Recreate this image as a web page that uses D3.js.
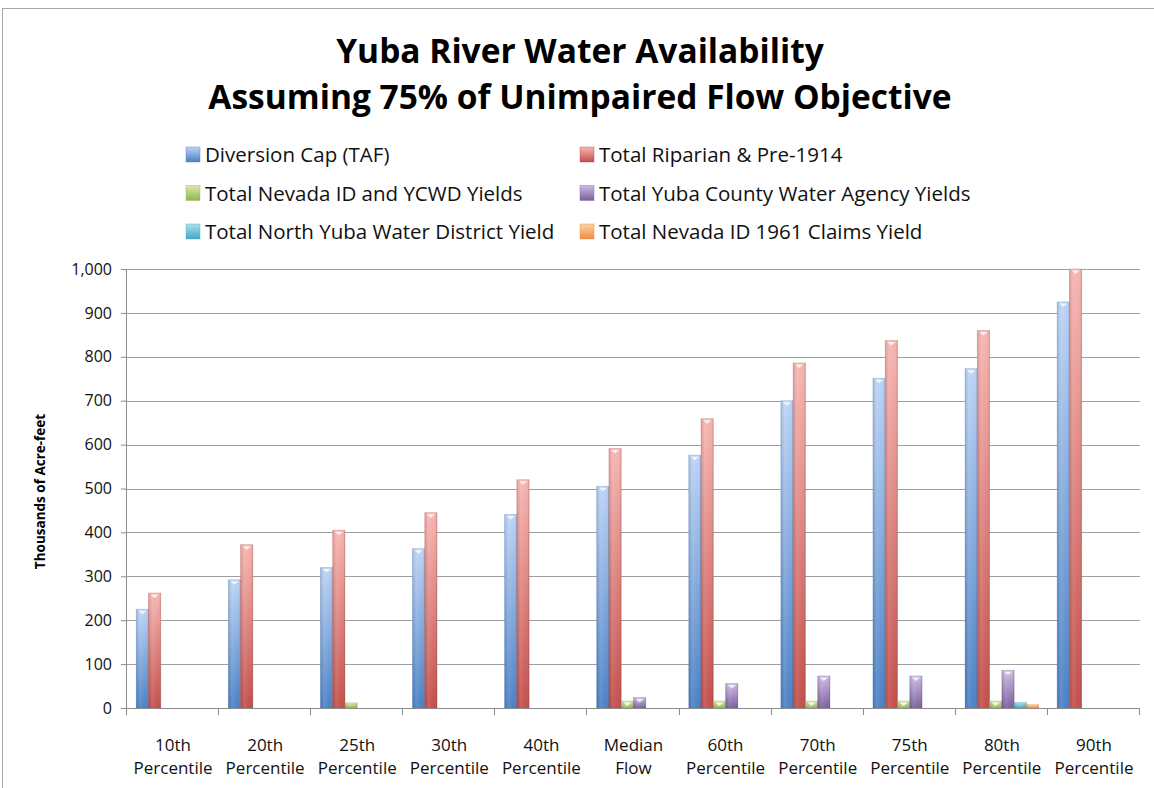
<!DOCTYPE html>
<html>
<head>
<meta charset="utf-8">
<script src="https://cdn.jsdelivr.net/npm/d3@7"></script>
<style>
  body { margin: 0; background: #fff; }
  svg { display: block; font-family: "Open Sans", sans-serif; }
</style>
</head>
<body>
<div class="chart"></div>
<script>
// categories along the x axis
var categories = ["10th Percentile", "20th Percentile", "25th Percentile", "30th Percentile",
    "40th Percentile", "Median Flow", "60th Percentile", "70th Percentile",
    "75th Percentile", "80th Percentile", "90th Percentile"];

var seriesNames = ["Diversion Cap (TAF)", "Total Riparian & Pre-1914",
    "Total Nevada ID and YCWD Yields", "Total Yuba County Water Agency Yields",
    "Total North Yuba Water District Yield", "Total Nevada ID 1961 Claims Yield"];

// values in thousands of acre-feet
var diversionCap = [225, 292, 320, 363, 441, 505, 576, 700, 751, 773, 925];
var riparian = [262, 372, 405, 445, 520, 591, 659, 786, 837, 860, 1000];
var nevadaYcwd = [0, 0, 12, 0, 0, 16, 16, 16, 16, 16, 0];
var ycwa = [0, 0, 0, 0, 0, 24, 56, 73, 73, 86, 0];
var northYuba = [0, 0, 0, 0, 0, 0, 0, 0, 0, 13, 0];
var nid1961 = [0, 0, 0, 0, 0, 0, 0, 0, 0, 8, 0];

var yTicks = [0, 100, 200, 300, 400, 500, 600, 700, 800, 900, 1000];

var allSeries = [diversionCap, riparian, nevadaYcwd, ycwa, northYuba, nid1961];

// light (top) and dark (bottom) gradient stops for each series
var colorsTop = ["#bcd3f5", "#f7b5b1", "#d9eaa8", "#cdbbe3", "#abe1ef", "#fbd3a6"];
var colorsBottom = ["#4a80c4", "#c24e4a", "#93b552", "#7b5e9e", "#45a7c2", "#ee8d3f"];

var W = 1154, H = 788;
var margin = { top: 269, right: 14, bottom: 80, left: 127 },
    width = W - margin.left - margin.right,
    height = H - margin.top - margin.bottom;

var svg = d3.select('.chart')
    .append('svg')
    .attr("width", W)
    .attr("height", H);

var defs = svg.append("defs");
colorsTop.forEach(function(c, i) {
    var g = defs.append("linearGradient")
        .attr("id", "grad" + i)
        .attr("x1", 0).attr("y1", 0).attr("x2", 0).attr("y2", 1);
    g.append("stop").attr("offset", "0%").attr("stop-color", c);
    g.append("stop").attr("offset", "100%").attr("stop-color", colorsBottom[i]);
    var h = defs.append("linearGradient")
        .attr("id", "shade" + i)
        .attr("x1", 0).attr("y1", 0).attr("x2", 1).attr("y2", 0);
    h.append("stop").attr("offset", "0%").attr("stop-color", "#000").attr("stop-opacity", 0.12);
    h.append("stop").attr("offset", "30%").attr("stop-color", "#fff").attr("stop-opacity", 0.1);
    h.append("stop").attr("offset", "75%").attr("stop-color", "#fff").attr("stop-opacity", 0);
    h.append("stop").attr("offset", "100%").attr("stop-color", "#000").attr("stop-opacity", 0.15);
});

// outer chart frame
svg.append("rect")
    .attr("x", 2.5).attr("y", 8.5)
    .attr("width", W + 10).attr("height", H + 10)
    .attr("fill", "none")
    .attr("stroke", "#a6a6a6");

// title
svg.append("text")
    .attr("x", 580).attr("y", 63)
    .attr("text-anchor", "middle")
    .attr("font-size", 33.5).attr("font-weight", "bold")
    .text("Yuba River Water Availability");
svg.append("text")
    .attr("x", 580).attr("y", 109)
    .attr("text-anchor", "middle")
    .attr("font-size", 33.5).attr("font-weight", "bold")
    .text("Assuming 75% of Unimpaired Flow Objective");

// legend
var legend = svg.append("g").attr("class", "legend");
seriesNames.forEach(function(name, i) {
    var col = i % 2, row = Math.floor(i / 2);
    var lx = col === 0 ? 186 : 580, ly = 155 + row * 38.5;
    legend.append("rect")
        .attr("x", lx).attr("y", ly - 8)
        .attr("width", 14).attr("height", 15)
        .attr("fill", "url(#grad" + i + ")")
        .attr("stroke", colorsBottom[i]).attr("stroke-opacity", 0.4);
    legend.append("text")
        .attr("x", lx + 19).attr("y", ly + 7)
        .attr("font-size", 20.5)
        .attr("fill", "#111")
        .text(name);
});

var g = svg.append("g")
    .attr("transform", "translate(" + margin.left + "," + margin.top + ")");

var x = d3.scaleBand()
    .domain(categories)
    .range([0, width])
    .paddingInner(0)
    .paddingOuter(0);

var xInner = d3.scaleBand()
    .domain(d3.range(allSeries.length))
    .range([0, x.bandwidth()])
    .paddingOuter(0.75)
    .paddingInner(0);

var y = d3.scaleLinear()
    .domain([0, 1000])
    .range([height, 0]);

// gridlines
g.append("g")
    .attr("class", "grid")
    .selectAll("line")
    .data(yTicks.slice(1))
    .enter()
    .append("line")
    .attr("x1", 0).attr("x2", width)
    .attr("y1", function(d) { return Math.round(y(d)) + 0.5; })
    .attr("y2", function(d) { return Math.round(y(d)) + 0.5; })
    .attr("stroke", "#a0a0a0");

// bars
var groups = g.selectAll(".cat")
    .data(categories)
    .enter()
    .append("g")
    .attr("class", "cat")
    .attr("transform", function(d) { return "translate(" + x(d) + ",0)"; });

allSeries.forEach(function(vals, si) {
    groups.filter(function(d, ci) { return vals[ci] > 0; })
        .each(function(d) {
            var ci = categories.indexOf(d);
            var bx = xInner(si), bw = xInner.bandwidth();
            var by = y(vals[ci]), bh = height - y(vals[ci]);
            var sel = d3.select(this);
            sel.append("rect")
                .attr("class", "barra")
                .attr("x", bx).attr("y", by)
                .attr("width", bw).attr("height", bh)
                .attr("fill", "url(#grad" + si + ")")
                .attr("stroke", colorsBottom[si]).attr("stroke-opacity", 0.35)
                .attr("stroke-width", 0.8);
            sel.append("rect")
                .attr("x", bx).attr("y", by)
                .attr("width", bw).attr("height", bh)
                .attr("fill", "url(#shade" + si + ")");
            // little highlight cap at the top of each bar
            if (bh > 6) {
                sel.append("path")
                    .attr("d", "M" + (bx + 2) + "," + (by + 1.5) + "L" + (bx + bw - 2) + "," + (by + 1.5) +
                        "L" + (bx + bw / 2) + "," + (by + 5) + "Z")
                    .attr("fill", "#fff").attr("fill-opacity", 0.75);
            }
        });
});

// y axis
var yAxis = d3.axisLeft(y)
    .tickValues(yTicks)
    .tickSize(6)
    .tickPadding(9)
    .tickFormat(d3.format(","));

var yAx = g.append("g")
    .attr("class", "yAxis")
    .call(yAxis);
yAx.select(".domain").attr("stroke", "#8c8c8c").attr("d", "M-0.5,0V" + height);
yAx.selectAll(".tick line").attr("stroke", "#8c8c8c");
yAx.selectAll(".tick text").attr("font-size", 16).attr("fill", "#111")
    .attr("font-family", "Open Sans, sans-serif");

// x axis
var xAx = g.append("g")
    .attr("class", "xAxis")
    .attr("transform", "translate(0," + height + ")");
xAx.append("line")
    .attr("x1", 0).attr("x2", width)
    .attr("y1", 0.5).attr("y2", 0.5)
    .attr("stroke", "#8c8c8c");
xAx.selectAll(".xtick")
    .data(categories.concat(["end"]))
    .enter()
    .append("line")
    .attr("x1", function(d, i) { return Math.round(i * x.step()) - 0.5; })
    .attr("x2", function(d, i) { return Math.round(i * x.step()) - 0.5; })
    .attr("y1", 0).attr("y2", 7)
    .attr("stroke", "#8c8c8c");
var labels = xAx.selectAll(".xlabel")
    .data(categories)
    .enter()
    .append("text")
    .attr("text-anchor", "middle")
    .attr("font-size", 17)
    .attr("fill", "#111")
    .attr("transform", function(d) { return "translate(" + (x(d) + x.bandwidth() / 2) + ",0)"; });
labels.each(function(d) {
    var parts = d.split(" ");
    var t = d3.select(this);
    t.append("tspan").attr("x", 0).attr("y", 43).text(parts[0]);
    t.append("tspan").attr("x", 0).attr("y", 66).text(parts[1]);
});

// y axis title
svg.append("text")
    .attr("transform", "translate(45," + (margin.top + height / 2 + 3) + ") rotate(-90)")
    .attr("text-anchor", "middle")
    .attr("font-size", 13.5).attr("font-weight", "bold")
    .text("Thousands of Acre-feet");
</script>
</body>
</html>
